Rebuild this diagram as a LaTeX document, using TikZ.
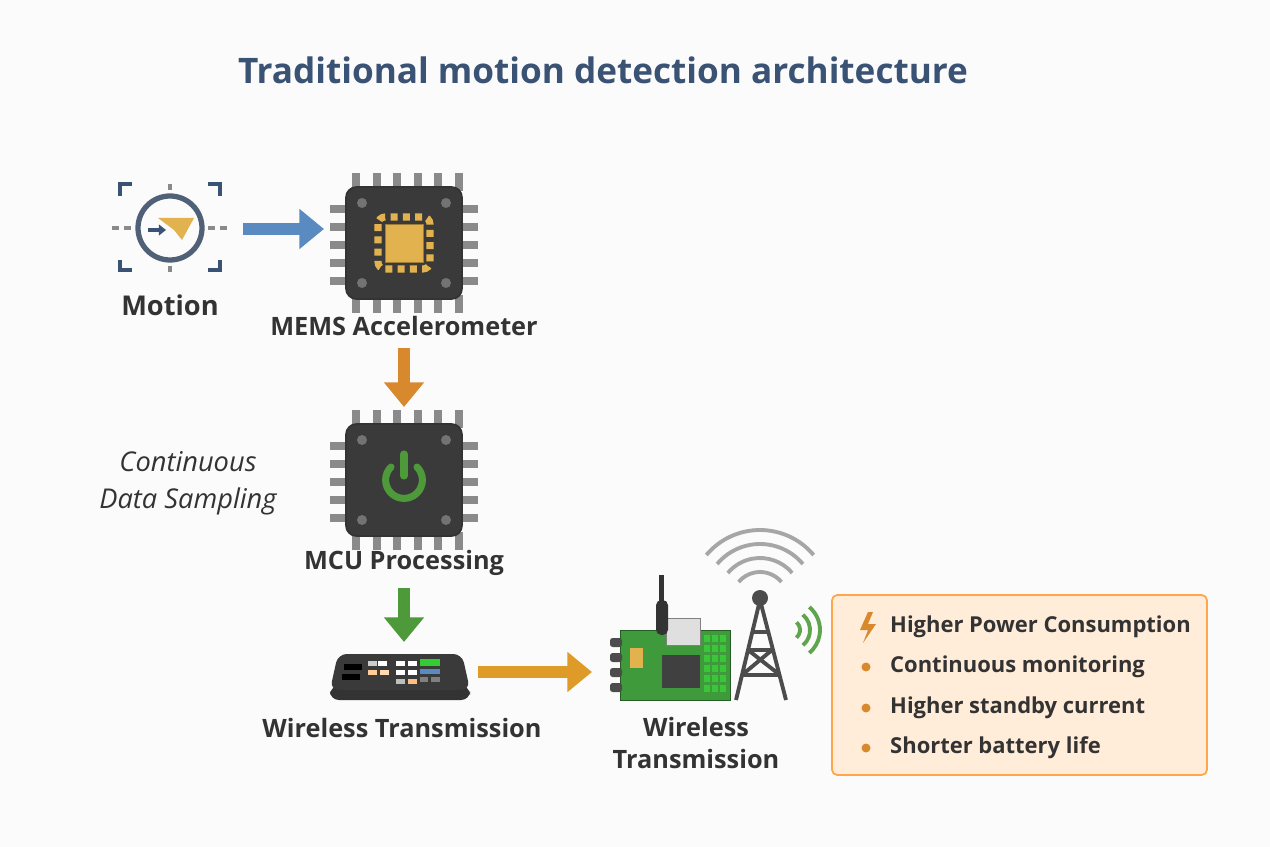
\documentclass[tikz,border=0pt]{standalone}
\usepackage{fontspec}
\setmainfont{Open Sans}
\usetikzlibrary{arrows.meta,shapes.geometric}
\definecolor{ttl}{HTML}{3A5274}
\definecolor{lbl}{HTML}{333333}
\definecolor{chip}{HTML}{3A3A3A}
\definecolor{pincol}{HTML}{8A8A8A}
\definecolor{gold}{HTML}{E2B24E}
\definecolor{org}{HTML}{D8892E}
\definecolor{grn}{HTML}{4E9A3A}
\definecolor{blu}{HTML}{5A8BC0}
\definecolor{pcb}{HTML}{3E9A3A}
\tikzset{
 lab/.style={font=\bfseries\fontsize{14.4}{17}\selectfont,text=lbl,align=center},
 blab/.style={font=\bfseries\fontsize{12.5}{15}\selectfont,text=lbl},
 bigarrow/.style={line width=7pt,-{Triangle[length=14pt,width=22pt]}},
 chipbody/.style={fill=chip,draw=black!80,rounded corners=6pt,line width=1pt},
}
\begin{document}
\begin{tikzpicture}[x=0.02cm,y=-0.02cm]
\useasboundingbox[fill=white!97!gray] (0,0) rectangle (1270,847);
\node[font=\bfseries\fontsize{20}{22}\selectfont,text=ttl] (title) at (603,70) {Traditional motion detection architecture};

% motion icon
\begin{scope}[shift={(170,228)}]
 \draw[ttl,line width=2.5pt] (-50,-32)--(-50,-44)--(-38,-44) (38,-44)--(50,-44)--(50,-32) (-50,32)--(-50,42)--(-38,42) (38,42)--(50,42)--(50,32);
 \draw[pincol,line width=2.5pt,dash pattern=on 4pt off 3pt] (-58,0)--(-38,0) (38,0)--(58,0) (0,-44)--(0,-38) (0,38)--(0,44);
 \draw[line width=3pt,ttl!70!gray] (0,0) circle (32);
 \fill[gold] (-12,-10)--(24,-10)--(12,12)--(4,2)--cycle;
 \draw[ttl,line width=2pt,-{Triangle[length=4pt,width=6pt]}] (-22,2)--(-4,2);
\end{scope}
\node[lab,font=\bfseries\fontsize{15.5}{17}\selectfont] (motion) at (170,305) {Motion};

\tikzset{pics/mychip/.style={code={
 \foreach \i in {0,...,5}{\fill[pincol] (-52+\i*20.5,-70) rectangle ++(8,18); \fill[pincol] (-52+\i*20.5,52) rectangle ++(8,18);}
 \foreach \i in {0,...,4}{\fill[pincol] (-74,-38+\i*18) rectangle ++(18,8); \fill[pincol] (56,-38+\i*18) rectangle ++(18,8);}
 \draw[chipbody] (-58,-56) rectangle (58,56);
 \foreach \p in {(-42,-40),(42,-40),(-42,40),(42,40)} \fill[black!55] \p circle (5);
}}}
\pic (mems) at (404,243) {mychip};
\begin{scope}[shift={(404,243)}]
 \draw[gold,line width=4pt,dash pattern=on 4pt off 3pt,rounded corners=4pt] (-26,-26) rectangle (26,26);
 \fill[gold,draw=gold!70!black] (-19,-19) rectangle (19,19);
\end{scope}
\node[lab] (memsl) at (404,326) {MEMS Accelerometer};
\coordinate (m1) at (243,229); \coordinate (memsL) at (324,229);
\draw[bigarrow,blu] (m1) -- (memsL);

\pic (mcu) at (404,480) {mychip};
\begin{scope}[shift={(404,480)}]
 \draw[grn,line width=4pt,line cap=round] (-13,-13) arc[start angle=225,end angle=-45,radius=18.4];
 \draw[grn,line width=4pt,line cap=round] (0,-26)--(0,-4);
\end{scope}
\node[lab] (mcul) at (404,563) {MCU Processing};
\coordinate (a1) at (404,348); \coordinate (a2) at (404,407);
\draw[bigarrow,org] (a1)--(a2);
\node[font=\itshape\fontsize{15.5}{21}\selectfont,text=lbl,align=center] (cds) at (188,483) {Continuous\\Data Sampling};
\coordinate (b1) at (404,588); \coordinate (b2) at (404,642);
\draw[bigarrow,grn] (b1)--(b2);

% keypad device
\begin{scope}[shift={(400,678)}]
 \fill[black!80,rounded corners=5pt] (-70,8) rectangle (70,22);
 \fill[chip,rounded corners=5pt] (-62,-24)--(62,-24)--(70,12)--(-70,12)--cycle;
 \fill[black] (-56,-14) rectangle (-38,-8); \fill[black] (-58,-4) rectangle (-40,2);
 \foreach \x/\y/\c in {-32/-17/gray!40,-22/-17/white,-32/-8/orange!40,-20/-8/orange!30,-4/-17/white,8/-17/white,-4/-8/white,8/-8/white,-4/1/gray!50,8/1/orange!50}
   \fill[\c] (\x,\y) rectangle ++(9,5);
 \fill[green!60!gray] (20,-19) rectangle (40,-12);
 \fill[blu] (20,-9) rectangle (40,-4);
 \fill[gray] (20,-1) rectangle (28,4); \fill[gray] (31,-1) rectangle (40,4);
\end{scope}
\node[lab] (wt1) at (402,728) {Wireless Transmission};
\coordinate (c1) at (478,672); \coordinate (c2) at (592,672);
\draw[bigarrow,org!85!yellow] (c1)--(c2);

% board
\fill[pcb,draw=pcb!60!black] (620,630) rectangle (730,700);
\foreach \y in {638,653,668,683} \fill[black!70,rounded corners=1.5pt] (610,\y) rectangle ++(12,9);
\fill[gold] (630,648) rectangle (643,668);
\fill[black!75] (662,655) rectangle (700,688);
\foreach \x in {704,712,720} \foreach \y in {635,645,655,665,675,685} \fill[green!55!gray] (\x,\y) rectangle ++(6,7);
\fill[gray!25,draw=gray] (666,618) rectangle (700,645);
\fill[black!80,rounded corners=3pt] (656,600) rectangle (668,635);
\fill[black!80] (659,575) rectangle (664,602);
% tower
\draw[gray!60!black,line width=2.2pt,line join=round] (760,600)--(736,700) (760,600)--(786,700) (748,650)--(772,650) (742,675)--(780,675) (752,632)--(768,632) (748,650)--(780,675) (772,650)--(742,675);
\fill[black!70] (760,598) circle (8);
\foreach \r in {28,42,56,70} \draw[gray!70,line width=2.2pt] (760,600) ++(-40:\r) arc[start angle=-40,end angle=-140,radius=\r];
\foreach \r in {10,20,30} \draw[grn!90,line width=2.2pt] (790,630) ++(-50:\r) arc[start angle=-50,end angle=50,radius=\r];
\node[lab,font=\bfseries\fontsize{14.4}{18}\selectfont] (wt2) at (696,743) {Wireless\\Transmission};

% info box
\node[draw=orange!70,fill=orange!15,line width=1pt,rounded corners=3pt,minimum width=375*0.02cm,minimum height=180*0.02cm] (box) at (1019.5,685) {};
\fill[org] (868,612)--(860,630)--(868,630)--(863,643)--(876,624)--(868,624)--(873,612)--cycle;
\node[blab,anchor=west] (t1) at (884,627) {Higher Power Consumption};
\foreach \y/\t [count=\k] in {667/Continuous monitoring,708/Higher standby current,748/Shorter battery life}{
 \fill[org] (866,\y) circle (4.5);
 \node[blab,anchor=west] (it\k) at (884,\y) {\t};}
\end{tikzpicture}
\end{document}
